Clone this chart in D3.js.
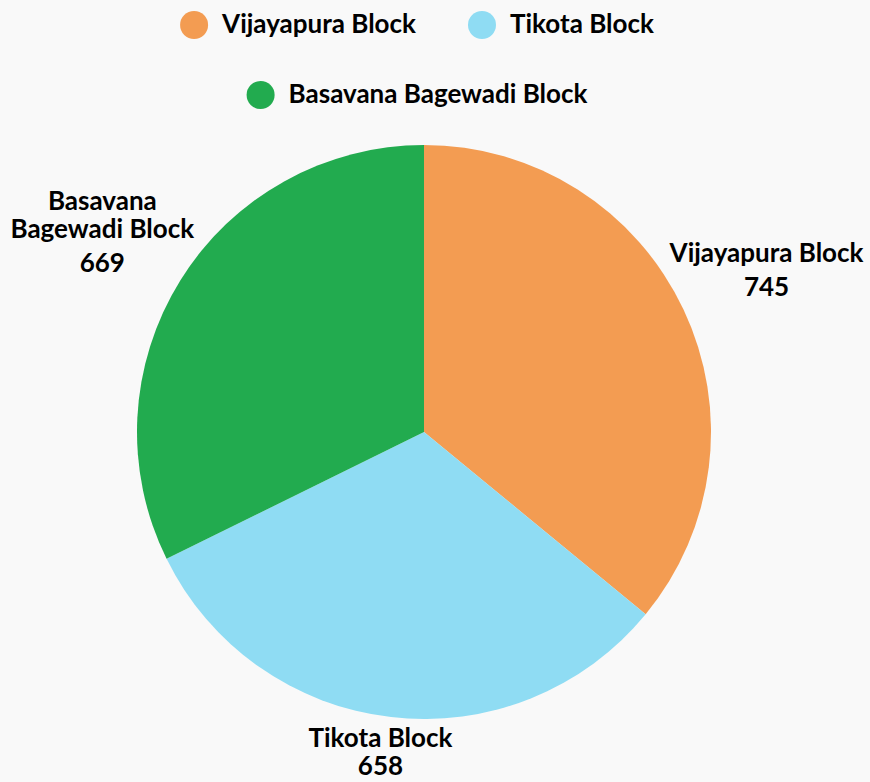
<!DOCTYPE html>
<html>
<head>
<meta charset="utf-8">
<script src="https://cdn.jsdelivr.net/npm/d3@7"></script>
<style>
  body { margin: 0; background: #f9f9f9; }
  svg { display: block; }
  text { font-family: Lato, "Open Sans", sans-serif; font-weight: 700; fill: #000; }
</style>
</head>
<body>
<div id="chart"></div>
<script>
var blocks = ["Vijayapura Block", "Tikota Block", "Basavana Bagewadi Block"];
var counts = [745, 658, 669];
var colours = ["#f39c52", "#8fdcf3", "#22ab4f"];
// label lines as they wrap in the picture
var labelLines = [["Vijayapura Block"], ["Tikota Block"], ["Basavana", "Bagewadi Block"]];
var legendRows = [[0, 1], [2]];

var width = 870, height = 782;
var cx = 424, cy = 432, radius = 287;
var fontSize = 26, capH = 18.5;

var data = blocks.map(function(b, i) {
  return { name: b, value: counts[i], colour: colours[i], lines: labelLines[i] };
});

var svg = d3.select('#chart')
            .append('svg')
            .attr('width', width)
            .attr('height', height);

var pie = d3.pie()
            .value(function(d) { return d.value; })
            .sort(null);
var arc = d3.arc().innerRadius(0).outerRadius(radius);

var g = svg.append('g')
           .attr('transform', `translate(${cx},${cy})`);

var arcs = pie(data);

g.selectAll('path')
  .data(arcs)
  .join('path')
  .attr('d', arc)
  .attr('fill', function(d) { return d.data.colour; });

// labels outside the slices
var labelArc = d3.arc().innerRadius(radius * 1.32).outerRadius(radius * 1.32);
var lineH = 28, valueGap = 34;
var maxBase = height - 7 - cy;
arcs.forEach(function(a) {
  var p = labelArc.centroid(a);
  var n = a.data.lines.length;
  var gap = valueGap;
  var span = capH + (n - 1) * lineH + gap;
  var first = p[1] - span / 2 + capH;
  var last = first + (n - 1) * lineH + gap;
  if (last > maxBase) {
    // pushed against the bottom edge: tighter spacing
    gap = lineH;
    last = maxBase;
    first = last - gap - (n - 1) * lineH;
  }
  var t = g.append('text')
           .attr('text-anchor', 'middle')
           .style('font-size', fontSize + 'px');
  a.data.lines.forEach(function(l, i) {
    t.append('tspan')
     .attr('x', p[0])
     .attr('y', first + i * lineH)
     .text(l);
  });
  t.append('tspan')
   .attr('x', p[0])
   .attr('y', last)
   .text(a.data.value);
});

// legend
var legend = svg.append('g');
var rowY = [25, 95];
legendRows.forEach(function(row, r) {
  var items = row.map(function(i) {
    var tmp = legend.append('text').style('font-size', fontSize + 'px').text(blocks[i]);
    var w = tmp.node().getComputedTextLength();
    tmp.remove();
    return { i: i, w: w };
  });
  var gap = 52, mark = 28, pad = 14;
  var total = d3.sum(items, function(d) { return mark + pad + d.w; }) + gap * (items.length - 1);
  var x = 417 - total / 2;
  items.forEach(function(it) {
    legend.append('circle')
          .attr('cx', x + mark / 2)
          .attr('cy', rowY[r])
          .attr('r', 14)
          .attr('fill', colours[it.i]);
    legend.append('text')
          .attr('x', x + mark + pad)
          .attr('y', rowY[r] + 8)
          .style('font-size', fontSize + 'px')
          .text(blocks[it.i]);
    x += mark + pad + it.w + gap;
  });
});
</script>
</body>
</html>
